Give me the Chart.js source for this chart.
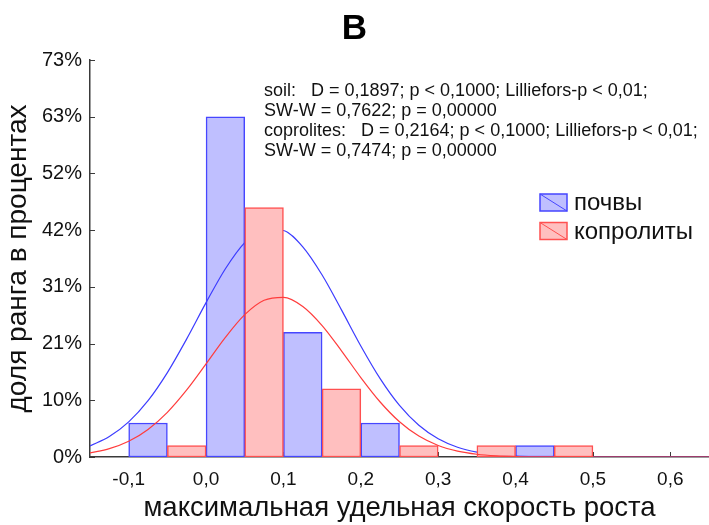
<!DOCTYPE html>
<html><head><meta charset="utf-8">
<script src="https://cdn.jsdelivr.net/npm/chart.js@4.4.1/dist/chart.umd.min.js"></script>
<style>html,body{margin:0;padding:0;background:#fff}</style>
</head><body>
<canvas id="c" width="709" height="525"></canvas>
<script>
const titleText = 'B';
const xTitle = 'максимальная удельная скорость роста';
const yTitle = 'доля ранга в процентах';
const xTickValues = [-0.1, 0, 0.1, 0.2, 0.3, 0.4, 0.5, 0.6];
const xTickLabels = ['-0,1', '0,0', '0,1', '0,2', '0,3', '0,4', '0,5', '0,6'];
const yTickValues = [0, 10.42, 20.83, 31.25, 41.67, 52.08, 62.5, 72.92];
const yTickLabels = ['0%', '10%', '21%', '31%', '42%', '52%', '63%', '73%'];
const seriesNames = ['почвы', 'копролиты'];
// histogram bins (centres of 0.05-wide bins) and percentages
const soilBinCenters = [-0.075, 0.025, 0.125, 0.225, 0.425];
const soilPct = [6.25, 62.5, 22.92, 6.25, 2.08];
const coproBinCenters = [-0.025, 0.075, 0.175, 0.275, 0.375, 0.475];
const coproPct = [2.08, 45.83, 12.5, 2.08, 2.08, 2.08];
// fitted curves
const curveX = [-0.15, -0.125, -0.1, -0.075, -0.05, -0.025, 0, 0.025, 0.05, 0.075, 0.1, 0.125, 0.15, 0.175, 0.2, 0.225, 0.25, 0.275, 0.3, 0.325, 0.35, 0.375, 0.4, 0.425, 0.45, 0.475, 0.5, 0.525, 0.55, 0.575, 0.6, 0.625, 0.65];
const soilCurve = [2.04, 3.75, 6.45, 10.35, 15.51, 21.70, 28.35, 34.58, 39.39, 41.90, 41.61, 38.59, 33.42, 27.02, 20.40, 14.39, 9.47, 5.82, 3.34, 1.79, 0.90, 0.42, 0.18, 0.07, 0.03, 0.01, 0, 0, 0, 0, 0, 0, 0];
const coproCurve = [0.75, 1.53, 2.89, 5.07, 8.21, 12.32, 17.10, 21.97, 26.14, 28.78, 29.33, 27.66, 24.15, 19.51, 14.59, 10.10, 6.47, 3.84, 2.11, 1.07, 0.50, 0.22, 0.09, 0.03, 0.01, 0, 0, 0, 0, 0, 0, 0, 0];
const statLines = [
  'soil:   D = 0,1897; p < 0,1000; Lilliefors-p < 0,01;',
  'SW-W = 0,7622; p = 0,00000',
  'coprolites:   D = 0,2164; p < 0,1000; Lilliefors-p < 0,01;',
  'SW-W = 0,7474; p = 0,00000'
];

const FONT = "'Liberation Sans', Arial, sans-serif";
const blueFill = 'rgb(191,191,255)', blueLine = 'rgb(70,70,255)', blueCurve = 'rgb(60,60,255)';
const redFill = 'rgb(255,191,191)', redLine = 'rgb(255,80,80)', redCurve = 'rgb(255,60,60)';
const axisColor = '#3a3a3a';

const extras = {
  id: 'extras',
  beforeDatasetsDraw(chart) {
    const ctx = chart.ctx, xs = chart.scales.x, ys = chart.scales.y, a = chart.chartArea;
    ctx.save();
    ctx.strokeStyle = axisColor; ctx.lineWidth = 1;
    xTickValues.forEach(v => {
      const px = Math.round(xs.getPixelForValue(v)) + 0.5;
      ctx.beginPath(); ctx.moveTo(px, a.bottom); ctx.lineTo(px, a.bottom - 5); ctx.stroke();
    });
    yTickValues.forEach(v => {
      const py = Math.round(ys.getPixelForValue(v)) + 0.5;
      ctx.beginPath(); ctx.moveTo(a.left, py); ctx.lineTo(a.left + 5, py); ctx.stroke();
    });
    ctx.restore();
  },
  afterDraw(chart) {
    const ctx = chart.ctx;
    ctx.save();
    ctx.fillStyle = '#111';
    ctx.font = '18px ' + FONT;
    ctx.textBaseline = 'middle';
    ctx.textAlign = 'left';
    statLines.forEach((t, i) => ctx.fillText(t, 264, 91 + i * 20));
    // legend
    const items = [[blueFill, blueLine], [redFill, redLine]];
    ctx.font = '24px ' + FONT;
    items.forEach((c, i) => {
      const x = 540, y = 194 + i * 28.5, w = 27, h = 17;
      ctx.fillStyle = c[0]; ctx.fillRect(x, y, w, h);
      ctx.strokeStyle = c[1]; ctx.lineWidth = 1.5;
      ctx.strokeRect(x, y, w, h);
      ctx.beginPath(); ctx.moveTo(x, y); ctx.lineTo(x + w, y + h); ctx.lineWidth = 1; ctx.stroke();
      ctx.fillStyle = '#111';
      ctx.fillText(seriesNames[i], 574, y + h / 2 + 1);
    });
    ctx.restore();
  }
};

new Chart(document.getElementById('c'), {
  type: 'bar',
  data: {
    datasets: [
      { type: 'bar', label: seriesNames[0], data: soilBinCenters.map((x, i) => ({x, y: soilPct[i]})),
        backgroundColor: blueFill, borderColor: blueLine, borderWidth: 1.5, borderSkipped: false,
        grouped: false, barPercentage: 1, categoryPercentage: 1, order: 4 },
      { type: 'line', label: seriesNames[0] + ' fit', data: curveX.map((x, i) => ({x, y: soilCurve[i]})),
        borderColor: blueCurve, borderWidth: 1.2, pointRadius: 0, fill: false,
        cubicInterpolationMode: 'monotone', order: 3 },
      { type: 'bar', label: seriesNames[1], data: coproBinCenters.map((x, i) => ({x, y: coproPct[i]})),
        backgroundColor: redFill, borderColor: redLine, borderWidth: 1.5, borderSkipped: false,
        grouped: false, barPercentage: 1, categoryPercentage: 1, order: 2 },
      { type: 'line', label: seriesNames[1] + ' fit', data: curveX.map((x, i) => ({x, y: coproCurve[i]})),
        borderColor: redCurve, borderWidth: 1.2, pointRadius: 0, fill: false,
        cubicInterpolationMode: 'monotone', order: 1 }
    ]
  },
  options: {
    responsive: false, animation: false,
    layout: { padding: 0 },
    plugins: {
      legend: { display: false }, tooltip: { enabled: false },
      title: { display: true, text: titleText, color: '#000',
        font: { family: FONT, size: 35, weight: 'bold', lineHeight: 1.2 }, padding: { top: 8, bottom: 10 } }
    },
    scales: {
      x: {
        type: 'linear', min: -0.15, max: 0.65, offset: false,
        afterBuildTicks: s => { s.ticks = xTickValues.map(v => ({ value: v })); },
        afterFit: s => { s.height = 68; },
        ticks: { callback: (v, i) => xTickLabels[i], color: '#111', font: { family: FONT, size: 19 }, padding: 11, maxRotation: 0, autoSkip: false },
        grid: { display: false, drawTicks: false, tickLength: 0, offset: false },
        border: { display: true, color: axisColor, width: 1.5 },
        title: { display: true, text: xTitle, color: '#111', font: { family: FONT, size: 27.5, lineHeight: 1.2 }, padding: { top: 0, bottom: 0 } }
      },
      y: {
        min: 0, max: 72.92,
        afterBuildTicks: s => { s.ticks = yTickValues.map(v => ({ value: v })); },
        afterFit: s => { s.width = 90; },
        ticks: { callback: (v, i) => yTickLabels[i], color: '#111', font: { family: FONT, size: 20 }, padding: 8, autoSkip: false },
        grid: { display: false, drawTicks: false, tickLength: 0 },
        border: { display: true, color: axisColor, width: 1.5 },
        title: { display: true, text: yTitle, color: '#111', font: { family: FONT, size: 28, lineHeight: 1.2 }, padding: { top: 1, bottom: 0 } }
      }
    }
  },
  plugins: [extras]
});
</script>
</body></html>
